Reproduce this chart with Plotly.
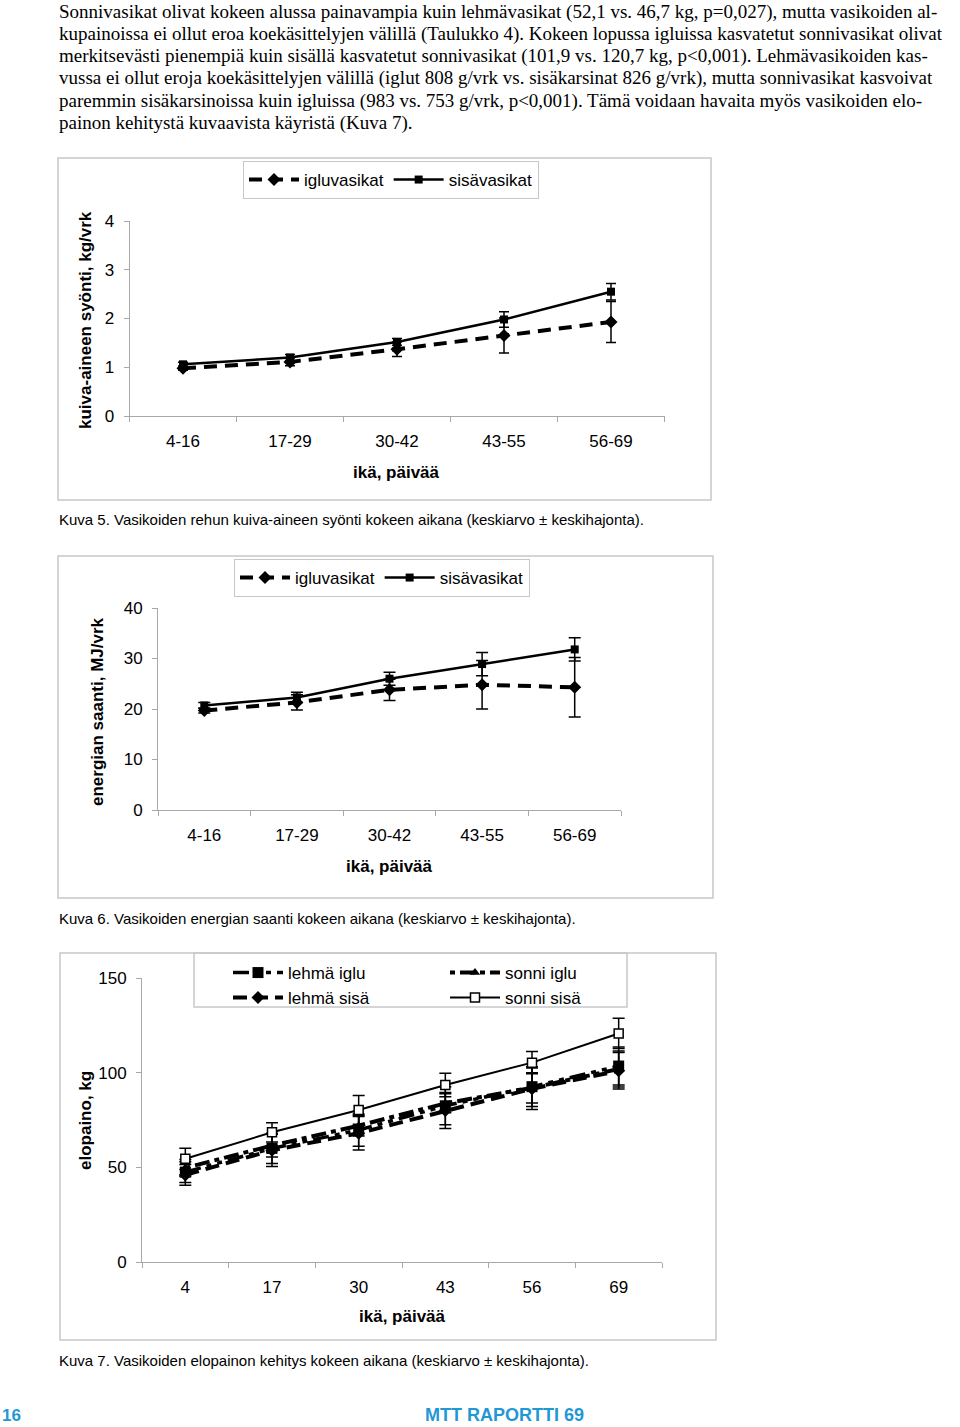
import plotly.graph_objects as go

W, H = 960, 1427

# ---------------- text ----------------
paragraph_lines = [
    "Sonnivasikat olivat kokeen alussa painavampia kuin lehmävasikat (52,1 vs. 46,7 kg, p=0,027), mutta vasikoiden al-",
    "kupainoissa ei ollut eroa koekäsittelyjen välillä (Taulukko 4). Kokeen lopussa igluissa kasvatetut sonnivasikat olivat",
    "merkitsevästi pienempiä kuin sisällä kasvatetut sonnivasikat (101,9 vs. 120,7 kg, p<0,001). Lehmävasikoiden kas-",
    "vussa ei ollut eroja koekäsittelyjen välillä (iglut 808 g/vrk vs. sisäkarsinat 826 g/vrk), mutta sonnivasikat kasvoivat",
    "paremmin sisäkarsinoissa kuin igluissa (983 vs. 753 g/vrk, p<0,001). Tämä voidaan havaita myös vasikoiden elo-",
    "painon kehitystä kuvaavista käyristä (Kuva 7).",
]
captions = [
    "Kuva 5. Vasikoiden rehun kuiva-aineen syönti kokeen aikana (keskiarvo ± keskihajonta).",
    "Kuva 6. Vasikoiden energian saanti kokeen aikana (keskiarvo ± keskihajonta).",
    "Kuva 7. Vasikoiden elopainon kehitys kokeen aikana (keskiarvo ± keskihajonta).",
]
x_title = "ikä, päivää"
y_titles = ["kuiva-aineen syönti, kg/vrk", "energian saanti, MJ/vrk", "elopaino, kg"]
footer_page = "16"
footer_title = "MTT RAPORTTI 69"

# ---------------- data ----------------
age_groups = ["4-16", "17-29", "30-42", "43-55", "56-69"]

# Kuva 5: dry matter intake, kg/d
dm_iglu = [0.98, 1.11, 1.37, 1.65, 1.93]
dm_iglu_sd = [0.04, 0.08, 0.15, 0.36, 0.42]
dm_sisa = [1.06, 1.20, 1.52, 1.98, 2.55]
dm_sisa_sd = [0.04, 0.06, 0.07, 0.16, 0.17]

# Kuva 6: energy intake, MJ/d
en_iglu = [19.7, 21.3, 23.8, 24.8, 24.3]
en_iglu_sd = [0.5, 1.5, 2.1, 4.8, 5.9]
en_sisa = [20.7, 22.3, 26.0, 28.9, 31.8]
en_sisa_sd = [0.6, 1.0, 1.3, 2.3, 2.3]

# Kuva 7: live weight, kg
age_days = ["4", "17", "30", "43", "56", "69"]
lw_lehma_iglu = [47.5, 60.0, 69.7, 82.5, 92.6, 103.5]
lw_lehma_iglu_sd = [5.5, 8.0, 8.5, 10.0, 10.5, 10.0]
lw_sonni_iglu = [49.7, 61.5, 72.0, 83.8, 92.0, 101.9]
lw_sonni_iglu_sd = [4.5, 6.0, 5.5, 5.0, 8.0, 9.5]
lw_lehma_sisa = [46.0, 59.0, 68.0, 80.0, 91.5, 101.0]
lw_lehma_sisa_sd = [5.5, 8.5, 8.8, 9.5, 11.0, 9.6]
lw_sonni_sisa = [54.5, 68.5, 80.3, 93.5, 105.3, 120.7]
lw_sonni_sisa_sd = [5.6, 5.1, 7.6, 6.2, 5.9, 8.0]

# ---------------- helpers ----------------
def fx(x):
    return x / W


def fy(y):
    return 1 - y / H


SANS = "Liberation Sans"
SERIF = "Liberation Serif"
AXIS_GRAY = "#a8a8a8"
FRAME_GRAY = "#c8c8c8"
BLUE = "#1f98d5"


def err(vals, width):
    return dict(type="data", array=vals, visible=True, color="black", thickness=1.5, width=width)


fig = go.Figure()

# ---- Chart 1 ----
fig.add_trace(go.Scatter(
    x=age_groups, y=dm_iglu, name="igluvasikat", xaxis="x", yaxis="y", legend="legend",
    mode="lines+markers", line=dict(color="black", width=4, dash="13px,8px"),
    marker=dict(symbol="diamond", size=10, color="black"),
    error_y=err(dm_iglu_sd, 5), cliponaxis=False))
fig.add_trace(go.Scatter(
    x=age_groups, y=dm_sisa, name="sisävasikat", xaxis="x", yaxis="y", legend="legend",
    mode="lines+markers", line=dict(color="black", width=2.5),
    marker=dict(symbol="square", size=8, color="black"),
    error_y=err(dm_sisa_sd, 5), cliponaxis=False))

# ---- Chart 2 ----
fig.add_trace(go.Scatter(
    x=age_groups, y=en_iglu, name="igluvasikat", xaxis="x2", yaxis="y2", legend="legend2",
    mode="lines+markers", line=dict(color="black", width=4, dash="13px,8px"),
    marker=dict(symbol="diamond", size=10, color="black"),
    error_y=err(en_iglu_sd, 6), cliponaxis=False))
fig.add_trace(go.Scatter(
    x=age_groups, y=en_sisa, name="sisävasikat", xaxis="x2", yaxis="y2", legend="legend2",
    mode="lines+markers", line=dict(color="black", width=2.5),
    marker=dict(symbol="square", size=8, color="black"),
    error_y=err(en_sisa_sd, 6), cliponaxis=False))

# ---- Chart 3 ----
fig.add_trace(go.Scatter(
    x=age_days, y=lw_lehma_iglu, name="lehmä iglu", xaxis="x3", yaxis="y3", legend="legend3",
    mode="lines+markers", line=dict(color="black", width=3.5, dash="16px,6px,5px,6px,5px,6px"),
    marker=dict(symbol="square", size=11, color="black"),
    error_y=err(lw_lehma_iglu_sd, 6), cliponaxis=False))
fig.add_trace(go.Scatter(
    x=age_days, y=lw_sonni_iglu, name="sonni iglu", xaxis="x3", yaxis="y3", legend="legend3",
    mode="lines+markers", line=dict(color="black", width=4, dash="5px,5px,15px,5px"),
    marker=dict(symbol="triangle-up", size=9, color="black"),
    error_y=err(lw_sonni_iglu_sd, 6), cliponaxis=False))
fig.add_trace(go.Scatter(
    x=age_days, y=lw_lehma_sisa, name="lehmä sisä", xaxis="x3", yaxis="y3", legend="legend4",
    mode="lines+markers", line=dict(color="black", width=4, dash="14px,7px"),
    marker=dict(symbol="diamond", size=10, color="black"),
    error_y=err(lw_lehma_sisa_sd, 6), cliponaxis=False))
fig.add_trace(go.Scatter(
    x=age_days, y=lw_sonni_sisa, name="sonni sisä", xaxis="x3", yaxis="y3", legend="legend4",
    mode="lines+markers", line=dict(color="black", width=2),
    marker=dict(symbol="square", size=9, color="white", line=dict(color="black", width=1.5)),
    error_y=err(lw_sonni_sisa_sd, 6), cliponaxis=False))


def xaxis_def(x0, x1, anchor, n):
    return dict(domain=[fx(x0), fx(x1)], anchor=anchor, type="category",
                range=[-0.5, n - 0.5], tickson="boundaries", automargin=False,
                showline=True, linecolor=AXIS_GRAY, linewidth=1,
                ticks="outside", ticklen=5, tickcolor=AXIS_GRAY,
                ticklabelstandoff=10, showgrid=False, zeroline=False,
                tickfont=dict(family=SANS, size=17, color="black"), fixedrange=True)


def yaxis_def(ytop, ybot, anchor, rng, dtick):
    return dict(domain=[fy(ybot), fy(ytop)], anchor=anchor, range=rng, dtick=dtick,
                automargin=False,
                showline=True, linecolor=AXIS_GRAY, linewidth=1,
                ticks="outside", ticklen=5, tickcolor=AXIS_GRAY,
                ticklabelstandoff=6, showgrid=False, zeroline=False,
                tickfont=dict(family=SANS, size=17, color="black"), fixedrange=True)


legend_common = dict(orientation="h", xanchor="left", yanchor="top",
                     font=dict(family=SANS, size=17, color="black"),
                     itemwidth=50, tracegroupgap=0, itemclick=False)

fig.update_layout(
    width=W, height=H, autosize=False,
    margin=dict(l=0, r=0, t=0, b=0, pad=0),
    paper_bgcolor="white", plot_bgcolor="white",
    showlegend=True,
    xaxis=xaxis_def(129.5, 664.5, "y", 5),
    yaxis=yaxis_def(221, 416, "x", [0, 4], 1),
    xaxis2=xaxis_def(158, 621, "y2", 5),
    yaxis2=yaxis_def(608, 810, "x2", [0, 40], 10),
    xaxis3=xaxis_def(142, 662, "y3", 6),
    yaxis3=yaxis_def(978, 1262, "x3", [0, 150], 50),
    legend=dict(x=fx(243), y=fy(161), bordercolor=FRAME_GRAY, borderwidth=1, **legend_common),
    legend2=dict(x=fx(234), y=fy(559), bordercolor=FRAME_GRAY, borderwidth=1, **legend_common),
    legend3=dict(x=fx(228), y=fy(955), borderwidth=0, bgcolor="rgba(0,0,0,0)",
                 entrywidth=152, **legend_common),
    legend4=dict(x=fx(228), y=fy(980), borderwidth=0, bgcolor="rgba(0,0,0,0)",
                 entrywidth=152, **legend_common),
)

# frames around charts and legend of chart 3
frames = [(58, 158, 711, 500), (58, 556, 713, 898), (60, 953, 716, 1340), (194, 953, 627, 1007)]
for (x0, y0, x1, y1) in frames:
    fig.add_shape(type="rect", xref="paper", yref="paper",
                  x0=fx(x0), x1=fx(x1), y0=fy(y1), y1=fy(y0),
                  line=dict(color=FRAME_GRAY, width=1.5), layer="below")

annotations = []
# paragraph
para_y = [12, 34, 56, 78, 101, 123]
for line, yy in zip(paragraph_lines, para_y):
    annotations.append(dict(text=line, x=fx(57), y=fy(yy), xref="paper", yref="paper",
                            xanchor="left", yanchor="middle", showarrow=False,
                            font=dict(family=SERIF, size=19, color="black")))
# captions
for cap, yy in zip(captions, [520, 918, 1360]):
    annotations.append(dict(text=cap, x=fx(57), y=fy(yy), xref="paper", yref="paper",
                            xanchor="left", yanchor="middle", showarrow=False,
                            font=dict(family=SANS, size=15, color="black")))
# axis titles
for (xx, yy) in [(396, 472), (389, 866), (402, 1316)]:
    annotations.append(dict(text="<b>%s</b>" % x_title, x=fx(xx), y=fy(yy), xref="paper", yref="paper",
                            xanchor="center", yanchor="middle", showarrow=False,
                            font=dict(family=SANS, size=17, color="black")))
for title, (xx, yy) in zip(y_titles, [(85, 320), (97, 712), (85, 1121)]):
    annotations.append(dict(text="<b>%s</b>" % title, x=fx(xx), y=fy(yy), xref="paper", yref="paper",
                            xanchor="center", yanchor="middle", showarrow=False, textangle=-90,
                            font=dict(family=SANS, size=17, color="black")))
# footer
annotations.append(dict(text="<b>%s</b>" % footer_page, x=fx(0), y=fy(1415), xref="paper", yref="paper",
                        xanchor="left", yanchor="middle", showarrow=False,
                        font=dict(family=SANS, size=17, color=BLUE)))
annotations.append(dict(text="<b>%s</b>" % footer_title, x=fx(505), y=fy(1415), xref="paper", yref="paper",
                        xanchor="center", yanchor="middle", showarrow=False,
                        font=dict(family=SANS, size=18, color=BLUE)))
fig.update_layout(annotations=annotations)

fig.write_html("out.html",
               config={"displayModeBar": False},
               post_script="document.body.style.margin='0';document.body.style.overflow='hidden';")
